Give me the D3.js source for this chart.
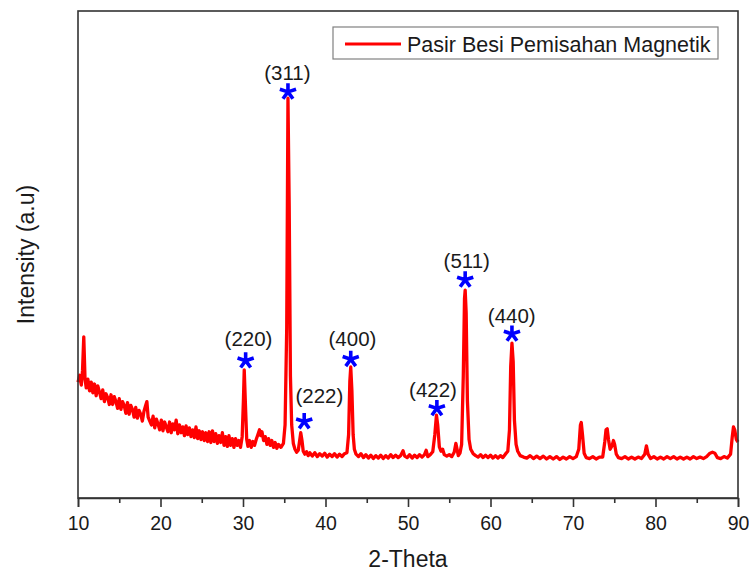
<!DOCTYPE html>
<html>
<head>
<meta charset="utf-8">
<script src="https://cdn.jsdelivr.net/npm/d3@7"></script>
<style>
  html, body { margin: 0; padding: 0; background: #fff; }
  svg { display: block; }
  text { font-family: Arial, "Liberation Sans", sans-serif; fill: #1a1a1a; }
</style>
</head>
<body>
<svg id="chart" width="749" height="571"></svg>
<script>
// ---------- DATA ----------
const seriesName = "Pasir Besi Pemisahan Magnetik";
const xTicks = [10, 20, 30, 40, 50, 60, 70, 80, 90];
const xMinorTicks = [15, 25, 35, 45, 55, 65, 75, 85];

const twoTheta = [
  10.0,10.2,10.4,10.55,10.7,10.85,11.0,11.2,11.4,11.6,11.8,12.0,12.2,12.4,12.6,12.8,13.0,13.2,13.4,13.6,13.8,
  14.0,14.2,14.4,14.6,14.8,15.0,15.2,15.4,15.6,15.8,16.0,16.2,16.4,16.6,16.8,17.0,17.2,17.4,17.6,17.8,18.0,
  18.2,18.35,18.5,18.7,18.9,19.1,19.3,19.5,19.7,19.9,20.1,20.3,20.5,20.7,20.9,21.1,21.3,21.5,21.7,21.9,22.1,
  22.3,22.5,22.7,22.9,23.1,23.3,23.5,23.7,23.9,24.1,24.3,24.5,24.7,24.9,25.1,25.3,25.5,25.7,25.9,26.1,26.3,
  26.5,26.7,26.9,27.1,27.3,27.5,27.7,27.9,28.1,28.3,28.5,28.7,28.9,29.1,29.3,29.5,29.7,29.9,30.05,30.15,30.3,
  30.45,30.6,30.8,31.0,31.2,31.4,31.6,31.8,32.0,32.15,32.3,32.5,32.7,32.9,33.1,33.3,33.5,33.7,33.9,34.1,34.3,
  34.6,34.9,35.1,35.3,35.45,35.6,35.75,35.9,36.1,36.3,36.5,36.7,36.85,37.0,37.15,37.3,37.5,37.7,37.9,38.1,
  38.4,38.7,39.0,39.3,39.6,39.9,40.2,40.5,40.8,41.1,41.4,41.7,42.0,42.3,42.6,42.8,42.95,43.06,43.2,43.35,43.5,
  43.7,44.0,44.3,44.6,44.9,45.2,45.5,45.8,46.1,46.4,46.7,47.0,47.3,47.6,47.9,48.2,48.5,48.8,49.1,49.4,49.6,
  49.9,50.2,50.5,50.8,51.1,51.4,51.7,52.0,52.2,52.4,52.7,53.0,53.25,53.45,53.6,53.8,54.0,54.2,54.4,54.7,55.0,
  55.3,55.6,55.8,55.95,56.1,56.3,56.5,56.7,56.85,56.93,57.05,57.2,57.4,57.6,57.9,58.2,58.5,58.8,59.1,59.4,
  59.7,60.0,60.3,60.6,60.9,61.2,61.5,61.8,62.1,62.3,62.45,62.6,62.75,62.9,63.1,63.3,63.6,64.0,64.4,64.8,65.2,
  65.6,66.0,66.4,66.8,67.2,67.6,68.0,68.4,68.8,69.2,69.6,70.0,70.4,70.7,70.9,71.0,71.15,71.35,71.6,72.0,72.4,
  72.8,73.2,73.6,73.85,74.0,74.15,74.3,74.5,74.75,74.9,75.05,75.25,75.5,75.9,76.3,76.7,77.1,77.5,77.9,78.3,
  78.7,78.9,79.1,79.4,79.8,80.2,80.6,81.0,81.4,81.8,82.2,82.6,83.0,83.4,83.8,84.2,84.6,85.0,85.4,85.8,86.2,
  86.6,86.9,87.2,87.5,87.9,88.3,88.7,89.1,89.3,89.45,89.6,89.8,90.0
];
const intensity = [
  238,252,232,262,331,245,226,244,220,238,216,234,210,230,218,204,222,198,214,206,192,
  212,192,208,198,184,204,182,198,190,174,196,172,190,182,166,186,164,180,172,158,178,
  190,198,166,158,150,168,144,162,152,140,160,138,156,146,136,156,134,152,140,160,132,
  150,134,146,128,148,130,144,126,140,124,146,122,138,120,136,118,134,116,136,114,138,
  116,132,112,128,114,134,108,126,106,128,108,122,104,122,108,118,104,126,200,263,190,
  120,106,118,104,116,108,120,130,140,128,136,118,126,110,122,108,118,104,114,102,110,
  104,112,150,350,821,600,250,150,112,100,94,98,116,134,118,96,90,95,87,93,
  86,93,85,91,86,92,84,90,85,91,84,90,85,91,93,130,240,269,220,130,100,
  90,85,91,83,89,82,88,81,87,82,88,81,87,82,89,83,88,83,87,97,86,
  83,89,82,88,83,89,84,89,98,85,89,95,130,170,150,105,96,100,89,86,89,
  85,94,112,100,87,92,110,250,410,427,380,200,120,100,91,87,84,89,83,88,
  83,88,82,87,82,87,83,90,96,140,270,318,280,160,110,96,87,84,82,87,81,
  86,81,86,80,85,80,85,79,84,80,85,81,85,100,150,155,130,92,83,81,85,
  80,84,84,115,140,142,120,100,108,118,110,90,83,81,85,80,84,80,84,81,
  90,107,90,81,85,80,84,80,85,81,85,80,84,80,84,80,85,81,84,81,85,
  92,94,92,83,81,85,82,90,125,146,140,120,115
];

const peakLabels = ["(220)", "(311)", "(222)", "(400)", "(422)", "(511)", "(440)"];
const starTheta = [30.32, 35.45, 37.42, 43.06, 53.5, 56.93, 62.6];
const starIntensity = [282, 834, 157, 285, 184, 448, 337];
const labelTheta = [30.67, 35.38, 39.26, 43.27, 53.03, 57.12, 62.58];
const labelIntensity = [312, 858, 195, 312, 208, 472, 359];

// ---------- CHART ----------
const svg = d3.select("#chart");
const pL = 78, pR = 738, pT = 11, pB = 498;
const FONT = 'Arial, "Liberation Sans", sans-serif';

const x = d3.scaleLinear().domain([10, 90]).range([pL, pR]);
const y = d3.scaleLinear().domain([0, 1000]).range([pB, pT]);

// data line
const n = Math.min(twoTheta.length, intensity.length);
const pts = d3.range(n).map(i => [twoTheta[i], intensity[i]]);
svg.append("path")
  .datum(pts)
  .attr("fill", "none")
  .attr("stroke", "#ff0000")
  .attr("stroke-width", 3.3)
  .attr("stroke-linejoin", "round")
  .attr("d", d3.line().x(d => x(d[0])).y(d => y(d[1])));

// frame
svg.append("rect")
  .attr("x", pL).attr("y", pT)
  .attr("width", pR - pL).attr("height", pB - pT)
  .attr("fill", "none").attr("stroke", "#333").attr("stroke-width", 1.6);

// bottom axis
const xAxis = d3.axisBottom(x).tickValues(xTicks).tickSize(9).tickPadding(9).tickFormat(d3.format("d"));
const gx = svg.append("g").attr("transform", `translate(0,${pB})`).call(xAxis);
gx.select(".domain").attr("stroke", "#333").attr("stroke-width", 1.6);
gx.selectAll(".tick line").attr("stroke", "#333").attr("stroke-width", 1.6);
gx.selectAll(".tick text").attr("font-size", 19.5).attr("fill", "#1a1a1a").style("font-family", FONT);
const gxm = svg.append("g").attr("transform", `translate(0,${pB})`)
  .call(d3.axisBottom(x).tickValues(xMinorTicks).tickSize(5).tickFormat(""));
gxm.select(".domain").remove();
gxm.selectAll(".tick line").attr("stroke", "#333").attr("stroke-width", 1.6);

// axis titles
svg.append("text").attr("x", (pL + pR) / 2).attr("y", 567)
  .attr("text-anchor", "middle").attr("font-size", 23).text("2-Theta");
svg.append("text").attr("transform", `translate(34,${(pT + pB) / 2}) rotate(-90)`)
  .attr("text-anchor", "middle").attr("font-size", 23).text("Intensity (a.u)");

// asterisks
function asterisk(r) {
  const p = d3.path();
  for (let k = 0; k < 5; k++) {
    const a = -Math.PI / 2 + k * 2 * Math.PI / 5;
    p.moveTo(0, 0);
    p.lineTo(r * Math.cos(a), r * Math.sin(a));
  }
  return p.toString();
}
svg.append("g").selectAll("path").data(starTheta).join("path")
  .attr("transform", (d, i) => `translate(${x(d)},${y(starIntensity[i])})`)
  .attr("d", asterisk(8.5))
  .attr("fill", "none").attr("stroke", "#0000ff").attr("stroke-width", 3.6)
  .attr("stroke-linecap", "butt");

svg.append("g").selectAll("text").data(peakLabels).join("text")
  .attr("x", (d, i) => x(labelTheta[i]))
  .attr("y", (d, i) => y(labelIntensity[i]))
  .attr("text-anchor", "middle").attr("font-size", 20.5).text(d => d);

// legend
const lg = svg.append("g");
lg.append("rect").attr("x", 333).attr("y", 27).attr("width", 385).attr("height", 32)
  .attr("fill", "#fff").attr("stroke", "#808080").attr("stroke-width", 1.2);
lg.append("line").attr("x1", 345).attr("x2", 401).attr("y1", 44).attr("y2", 44)
  .attr("stroke", "#ff0000").attr("stroke-width", 3);
lg.append("text").attr("x", 407).attr("y", 51.5).attr("font-size", 21.5).text(seriesName);
</script>
</body>
</html>
